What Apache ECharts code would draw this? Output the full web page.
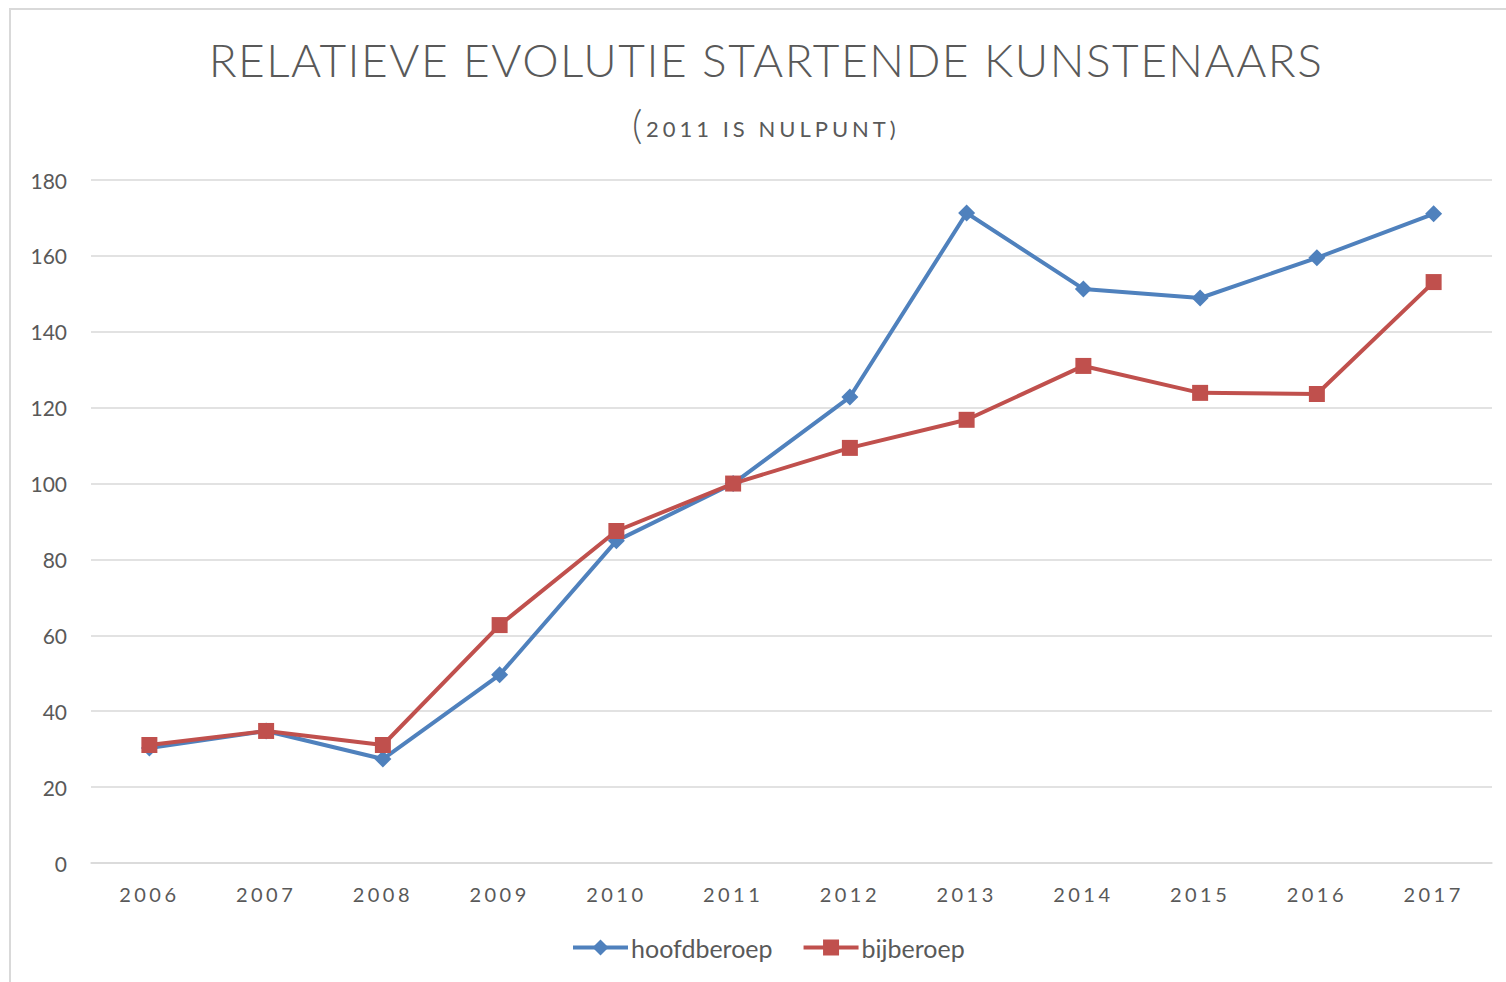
<!DOCTYPE html>
<html>
<head>
<meta charset="utf-8">
<script src="https://cdn.jsdelivr.net/npm/echarts@6/dist/echarts.min.js"></script>
<style>
  html, body { margin: 0; padding: 0; background: #ffffff; }
  #chart { width: 1506px; height: 982px; }
</style>
</head>
<body>
<div id="chart"></div>
<script>
// data
var years = ['2006', '2007', '2008', '2009', '2010', '2011', '2012', '2013', '2014', '2015', '2016', '2017']
var hoofdberoep = [30.3, 34.8, 27.4, 49.6, 84.9, 100, 122.8, 171.3, 151.3, 148.9, 159.5, 171.1]
var bijberoep = [31.1, 34.8, 31.1, 62.7, 87.5, 100, 109.4, 116.8, 131.0, 123.9, 123.6, 153.1]
var seriesNames = ['hoofdberoep', 'bijberoep']

var textColor = '#595959'
var gridColor = '#d9d9d9'

var chart = echarts.init(document.getElementById('chart'), null, { renderer: 'svg' })

var option = {
  animation: false,
  backgroundColor: '#ffffff',
  textStyle: { fontFamily: 'Lato' },
  graphic: [
    {
      // outer frame, only its top and left edges are inside the picture
      type: 'rect',
      shape: { x: 10, y: 9, width: 1600, height: 1000 },
      style: { fill: 'none', stroke: gridColor, lineWidth: 2 },
      silent: true
    }
  ],
  title: [
    {
      text: 'RELATIEVE EVOLUTIE STARTENDE KUNSTENAARS',
      left: 761,
      top: 31,
      textAlign: 'center',
      textStyle: { fontFamily: 'Lato', fontWeight: 300, fontSize: 46, color: textColor }
    },
    {
      text: '(',
      left: 627,
      top: 99,
      textStyle: { fontFamily: 'Lato', fontWeight: 300, fontSize: 40, color: textColor }
    },
    {
      text: '2011 IS NULPUNT)',
      left: 641,
      top: 112,
      textStyle: { fontFamily: 'Lato', fontWeight: 400, fontSize: 22, color: textColor }
    }
  ],
  legend: {
    data: seriesNames,
    left: 566,
    top: 930,
    itemWidth: 55,
    itemHeight: 20,
    itemGap: 29,
    lineStyle: { width: 4 },
    textStyle: { fontFamily: 'Lato', fontSize: 25, color: textColor, padding: [0, 0, 0, -2] }
  },
  grid: {
    left: 91,
    right: 14,
    top: 180,
    bottom: 119
  },
  xAxis: {
    type: 'category',
    data: years,
    boundaryGap: true,
    axisLine: { show: true, lineStyle: { color: gridColor, width: 1.5 } },
    axisTick: { show: false },
    axisLabel: { fontFamily: 'Lato', fontSize: 20, color: textColor, margin: 21 }
  },
  yAxis: {
    type: 'value',
    min: 0,
    max: 180,
    interval: 20,
    axisLine: { show: false },
    axisTick: { show: false },
    splitLine: { lineStyle: { color: gridColor, width: 1.5 } },
    axisLabel: { fontFamily: 'Lato', fontSize: 21, color: textColor, margin: 24 }
  },
  series: [
    {
      name: seriesNames[0],
      type: 'line',
      data: hoofdberoep,
      symbol: 'diamond',
      symbolSize: 17,
      lineStyle: { width: 4, color: '#4f81bd' },
      itemStyle: { color: '#4f81bd' }
    },
    {
      name: seriesNames[1],
      type: 'line',
      data: bijberoep,
      symbol: 'rect',
      symbolSize: 16,
      lineStyle: { width: 4, color: '#c0504d' },
      itemStyle: { color: '#c0504d' }
    }
  ]
}

chart.setOption(option)

// letter spacing is not an echarts option, add it on the svg text afterwards
function spaceLetters() {
  var texts = document.querySelectorAll('#chart svg text')
  texts.forEach(function (t) {
    var s = t.textContent
    if (s === 'RELATIEVE EVOLUTIE STARTENDE KUNSTENAARS') {
      t.style.letterSpacing = '1.5px'
    } else if (s === '2011 IS NULPUNT)') {
      t.style.letterSpacing = '4px'
    } else if (/^20\d\d$/.test(s)) {
      t.style.letterSpacing = '3.5px'
    }
  })
}
spaceLetters()
chart.on('finished', spaceLetters)
</script>
</body>
</html>
